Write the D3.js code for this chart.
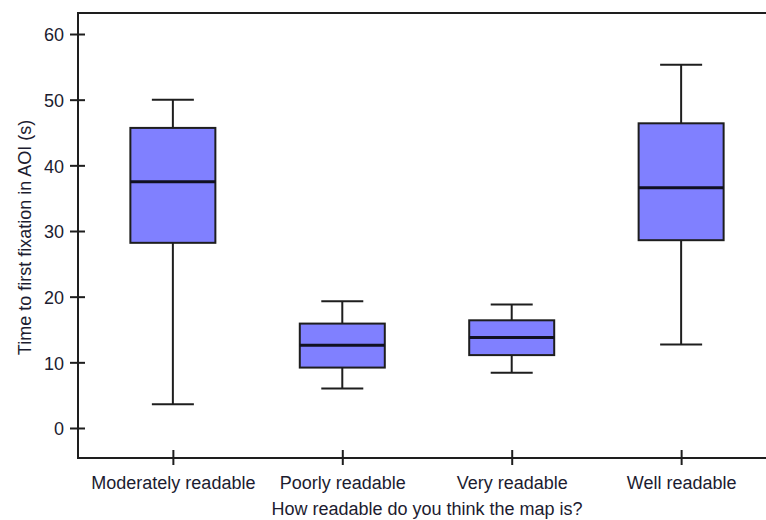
<!DOCTYPE html>
<html>
<head>
<meta charset="utf-8">
<script src="https://cdn.jsdelivr.net/npm/d3@7"></script>
<style>
  html, body { margin: 0; padding: 0; background: #ffffff; }
  svg { display: block; }
  text { font-family: "Liberation Sans", Arial, sans-serif; fill: #1c1c30; }
</style>
</head>
<body>
<svg id="chart" width="766" height="520"></svg>
<script>
// Readability groups and five-number summaries of time to first fixation (s)
const categories = ["Moderately readable", "Poorly readable", "Very readable", "Well readable"];
const whiskerLow  = [3.6, 6.0, 8.4, 12.7];
const q1          = [28.2, 9.2, 11.1, 28.6];
const median      = [37.5, 12.6, 13.8, 36.6];
const q3          = [45.7, 15.9, 16.4, 46.4];
const whiskerHigh = [50.0, 19.3, 18.8, 55.3];
const yTicks = [0, 10, 20, 30, 40, 50, 60];

const xTitle = "How readable do you think the map is?";
const yTitle = "Time to first fixation in AOI (s)";

const rows = categories.map((c, i) => ({
  cat: c, lo: whiskerLow[i], q1: q1[i], med: median[i], q3: q3[i], hi: whiskerHigh[i]
}));

const svg = d3.select("#chart");
const plotL = 78, plotR = 776, plotT = 13, plotB = 458;

const x = d3.scalePoint().domain(categories).range([plotL, plotR]).padding(0.56);
const y = d3.scaleLinear().domain([-4.57, 63.2]).range([plotB, plotT]);

const boxW = 85, capW = 42;
const ink = "#1e1e1e";

// Whiskers: vertical stems and caps
const g = svg.append("g");
rows.forEach(d => {
  const cx = x(d.cat);
  g.append("line").attr("x1", cx).attr("x2", cx).attr("y1", y(d.hi)).attr("y2", y(d.q3))
    .attr("stroke", ink).attr("stroke-width", 2);
  g.append("line").attr("x1", cx).attr("x2", cx).attr("y1", y(d.q1)).attr("y2", y(d.lo))
    .attr("stroke", ink).attr("stroke-width", 2);
  g.append("line").attr("x1", cx - capW / 2).attr("x2", cx + capW / 2).attr("y1", y(d.hi)).attr("y2", y(d.hi))
    .attr("stroke", ink).attr("stroke-width", 2);
  g.append("line").attr("x1", cx - capW / 2).attr("x2", cx + capW / 2).attr("y1", y(d.lo)).attr("y2", y(d.lo))
    .attr("stroke", ink).attr("stroke-width", 2);
});

// Boxes
g.selectAll("rect.box").data(rows).join("rect")
  .attr("class", "box")
  .attr("x", d => x(d.cat) - boxW / 2)
  .attr("width", boxW)
  .attr("y", d => y(d.q3))
  .attr("height", d => y(d.q1) - y(d.q3))
  .attr("fill", "#8080ff")
  .attr("stroke", ink)
  .attr("stroke-width", 2);

// Medians
g.selectAll("line.med").data(rows).join("line")
  .attr("class", "med")
  .attr("x1", d => x(d.cat) - boxW / 2)
  .attr("x2", d => x(d.cat) + boxW / 2)
  .attr("y1", d => y(d.med))
  .attr("y2", d => y(d.med))
  .attr("stroke", "#111122")
  .attr("stroke-width", 3);

// Frame
svg.append("path")
  .attr("d", `M${plotR},${plotT}H${plotL}V${plotB}H${plotR}`)
  .attr("fill", "none").attr("stroke", ink).attr("stroke-width", 2);

// Y axis
const yAxis = svg.append("g").attr("transform", `translate(${plotL},0)`)
  .call(d3.axisLeft(y).tickValues(yTicks).tickSize(8).tickPadding(6));
yAxis.select(".domain").remove();
yAxis.selectAll(".tick line").attr("x1", -8).attr("x2", 7).attr("stroke", ink).attr("stroke-width", 2);
yAxis.selectAll(".tick text").attr("x", -14).attr("dy", "0.38em")
  .style("font-size", "18px").style("font-family", "'Liberation Sans', Arial, sans-serif").attr("fill", "#1c1c30");

// X axis
const xAxis = svg.append("g").attr("transform", `translate(0,${plotB})`)
  .call(d3.axisBottom(x).tickSize(7).tickPadding(6));
xAxis.select(".domain").remove();
xAxis.selectAll(".tick line").attr("y1", -8).attr("y2", 7).attr("stroke", ink).attr("stroke-width", 2);
xAxis.selectAll(".tick text").attr("y", 31).attr("dy", 0)
  .style("font-size", "18px").style("font-family", "'Liberation Sans', Arial, sans-serif").attr("fill", "#1c1c30");

// Axis titles
svg.append("text")
  .attr("x", (plotL + plotR) / 2).attr("y", 515)
  .attr("text-anchor", "middle").style("font-size", "18px")
  .text(xTitle);

svg.append("text")
  .attr("transform", `translate(31,${(plotT + plotB) / 2 + 2}) rotate(-90)`)
  .attr("text-anchor", "middle").style("font-size", "18px")
  .text(yTitle);
</script>
</body>
</html>
